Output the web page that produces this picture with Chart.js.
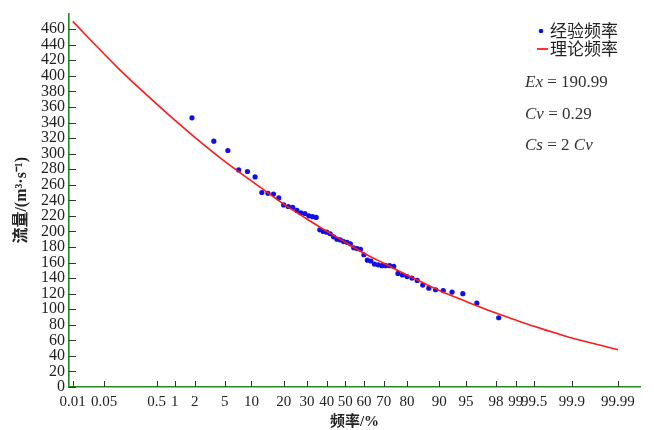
<!DOCTYPE html>
<html>
<head>
<meta charset="utf-8">
<script src="https://cdn.jsdelivr.net/npm/chart.js@4.4.1/dist/chart.umd.min.js"></script>
<style>
  html, body { margin: 0; padding: 0; background: #fff; }
  #wrap { width: 654px; height: 430px; }
</style>
</head>
<body>
<div id="wrap"><canvas id="freqChart" width="654" height="430"></canvas></div>
<script>
// Flow frequency curve on probability paper (P-III fit)

// empirical points: exceedance frequency (%) and flow (m3/s)
const empiricalFreq = [1.82, 3.64, 5.45, 7.27, 9.09, 10.91, 12.73, 14.55, 16.36, 18.18,
  20.00, 21.82, 23.64, 25.45, 27.27, 29.09, 30.91, 32.73, 34.55, 36.36,
  38.18, 40.00, 41.82, 43.64, 45.45, 47.27, 49.09, 50.91, 52.73, 54.55,
  56.36, 58.18, 60.00, 61.82, 63.64, 65.45, 67.27, 69.09, 70.91, 72.73,
  74.55, 76.36, 78.18, 80.00, 81.82, 83.64, 85.45, 87.27, 89.09, 90.91,
  92.73, 94.55, 96.36, 98.18];
const empiricalFlow = [346, 316, 304, 279, 277, 270, 250, 249, 248, 243,
  234, 232, 231, 227, 224, 223, 220, 219, 218, 202,
  200, 199, 197, 193, 190, 189, 187, 186, 184, 179,
  178, 177, 170, 163, 162, 158, 157, 156, 156, 156,
  155, 146, 144, 142, 140, 137, 131, 127, 125, 124,
  122, 120, 108, 89];

// theoretical curve
const theoryFreq = [0.01, 0.05, 0.1, 0.2, 0.5, 1, 2, 5, 10, 20, 30, 40, 50,
  60, 70, 80, 90, 95, 98, 99, 99.5, 99.8, 99.9, 99.99];
const theoryFlow = [470, 428, 409, 390, 364, 343, 321, 290, 265, 235, 216, 200, 186,
  172, 159, 144, 124, 110, 95, 86, 78, 69, 63, 48];

// axis ticks
const xTickValues = [0.01, 0.05, 0.5, 1, 2, 5, 10, 20, 30, 40, 50, 60, 70, 80, 90,
  95, 98, 99, 99.5, 99.9, 99.99];
const xTickLabels = ["0.01", "0.05", "0.5", "1", "2", "5", "10", "20", "30", "40", "50",
  "60", "70", "80", "90", "95", "98", "99", "99.5", "99.9", "99.99"];
const yTickValues = [0, 20, 40, 60, 80, 100, 120, 140, 160, 180, 200, 220, 240, 260,
  280, 300, 320, 340, 360, 380, 400, 420, 440, 460];

const Z_MIN = -3.77;
const Z_MAX = 4.02;
const AXIS_GREEN = "#228b22";

// Acklam inverse normal
function qnorm(p) {
  const a = [-3.969683028665376e+01, 2.209460984245205e+02, -2.759285104469687e+02,
    1.383577518672690e+02, -3.066479806614716e+01, 2.506628277459239e+00];
  const b = [-5.447609879822406e+01, 1.615858368580409e+02, -1.556989798598866e+02,
    6.680131188771972e+01, -1.328068155288572e+01];
  const c = [-7.784894002430293e-03, -3.223964580411365e-01, -2.400758277161838e+00,
    -2.549732539343734e+00, 4.374664141464968e+00, 2.938163982698783e+00];
  const d = [7.784695709041462e-03, 3.224671290700398e-01, 2.445134137142996e+00,
    3.754408661907416e+00];
  const pl = 0.02425;
  let q, r;
  if (p < pl) {
    q = Math.sqrt(-2 * Math.log(p));
    return (((((c[0] * q + c[1]) * q + c[2]) * q + c[3]) * q + c[4]) * q + c[5]) /
      ((((d[0] * q + d[1]) * q + d[2]) * q + d[3]) * q + 1);
  }
  if (p > 1 - pl) {
    q = Math.sqrt(-2 * Math.log(1 - p));
    return -(((((c[0] * q + c[1]) * q + c[2]) * q + c[3]) * q + c[4]) * q + c[5]) /
      ((((d[0] * q + d[1]) * q + d[2]) * q + d[3]) * q + 1);
  }
  q = p - 0.5;
  r = q * q;
  return (((((a[0] * r + a[1]) * r + a[2]) * r + a[3]) * r + a[4]) * r + a[5]) * q /
    (((((b[0] * r + b[1]) * r + b[2]) * r + b[3]) * r + b[4]) * r + 1);
}

function pnorm(z) {
  const t = 1 / (1 + 0.2316419 * Math.abs(z));
  const poly = t * (0.319381530 + t * (-0.356563782 + t * (1.781477937 + t * (-1.821255978 + t * 1.330274429))));
  const tail = Math.exp(-z * z / 2) / Math.sqrt(2 * Math.PI) * poly;
  return z >= 0 ? 1 - tail : tail;
}

// probability-paper scale: value in %, pixel linear in normal quantile
class ProbabilityScale extends Chart.LinearScale {
  determineDataLimits() {
    this.min = pnorm(Z_MIN) * 100;
    this.max = pnorm(Z_MAX) * 100;
  }
  buildTicks() {
    return xTickValues.map((v) => ({ value: v }));
  }
  getPixelForValue(value) {
    const z = qnorm(value / 100);
    return this.getPixelForDecimal((z - Z_MIN) / (Z_MAX - Z_MIN));
  }
  getValueForPixel(pixel) {
    const z = Z_MIN + this.getDecimalForPixel(pixel) * (Z_MAX - Z_MIN);
    return pnorm(z) * 100;
  }
}
ProbabilityScale.id = "probability";
ProbabilityScale.defaults = {};
Chart.register(ProbabilityScale);

// ticks pointing into the plot area
const inwardTicks = {
  id: "inwardTicks",
  afterDraw(chart) {
    const { ctx, chartArea, scales } = chart;
    ctx.save();
    ctx.strokeStyle = "#333";
    ctx.lineWidth = 1;
    ctx.beginPath();
    scales.x.ticks.forEach((t) => {
      const px = Math.round(scales.x.getPixelForValue(t.value)) + 0.5;
      ctx.moveTo(px, chartArea.bottom);
      ctx.lineTo(px, chartArea.bottom - 6);
    });
    scales.y.ticks.forEach((t) => {
      const py = Math.round(scales.y.getPixelForValue(t.value)) + 0.5;
      ctx.moveTo(chartArea.left, py);
      ctx.lineTo(chartArea.left + 7, py);
    });
    ctx.stroke();
    ctx.restore();
  },
};

// legend + parameter notes in the upper right
function drawRuns(ctx, x, y, runs) {
  runs.forEach(([text, italic]) => {
    ctx.font = (italic ? "italic " : "") + "17px 'Liberation Serif', serif";
    ctx.fillText(text, x, y);
    x += ctx.measureText(text).width;
  });
}

const notes = {
  id: "notes",
  afterDraw(chart) {
    const ctx = chart.ctx;
    ctx.save();
    ctx.textBaseline = "middle";
    ctx.fillStyle = "#1010e6";
    ctx.beginPath();
    ctx.arc(541, 31, 2.3, 0, Math.PI * 2);
    ctx.fill();
    ctx.strokeStyle = "#ff1a1a";
    ctx.lineWidth = 1.8;
    ctx.beginPath();
    ctx.moveTo(537, 49);
    ctx.lineTo(548, 49);
    ctx.stroke();

    ctx.fillStyle = "#222";
    ctx.font = "17px 'Noto Sans CJK SC', sans-serif";
    ctx.fillText("经验频率", 550, 31);
    ctx.fillText("理论频率", 550, 49);

    ctx.fillStyle = "#333";
    drawRuns(ctx, 525, 83, [["Ex", true], [" = 190.99", false]]);
    drawRuns(ctx, 525, 115, [["Cv", true], [" = 0.29", false]]);
    drawRuns(ctx, 525, 146, [["Cs", true], [" = 2 ", false], ["Cv", true]]);
    ctx.restore();
  },
};

const ctx = document.getElementById("freqChart").getContext("2d");
new Chart(ctx, {
  type: "line",
  data: {
    datasets: [
      {
        label: "经验频率",
        data: empiricalFreq.map((f, i) => ({ x: f, y: empiricalFlow[i] })),
        showLine: false,
        pointRadius: 2.6,
        pointBorderWidth: 0,
        pointBackgroundColor: "#1010e6",
        order: 1,
      },
      {
        label: "理论频率",
        data: theoryFreq.map((f, i) => ({ x: f, y: theoryFlow[i] })),
        borderColor: "#ff1a1a",
        borderWidth: 1.6,
        pointRadius: 0,
        tension: 0.3,
        fill: false,
        order: 0,
      },
    ],
  },
  options: {
    responsive: false,
    animation: false,
    devicePixelRatio: 1,
    events: [],
    layout: { padding: { left: 0, top: 7, right: 14, bottom: 0 } },
    plugins: {
      legend: { display: false },
      tooltip: { enabled: false },
    },
    scales: {
      x: {
        type: "probability",
        afterFit: (s) => { s.height = 43; },
        grid: { display: false, drawTicks: false },
        border: { display: true, color: AXIS_GREEN, width: 1.6 },
        ticks: {
          autoSkip: false,
          maxRotation: 0,
          padding: 6,
          color: "#222",
          font: { family: "'Liberation Serif', serif", size: 15 },
          callback: (v, i) => xTickLabels[i],
        },
        title: {
          display: true,
          text: "频率/%",
          color: "#222",
          padding: 0,
          font: { family: "'Liberation Serif', 'Noto Sans CJK SC', serif", size: 15, weight: "bold", lineHeight: 1.1 },
        },
      },
      y: {
        type: "linear",
        min: 0,
        max: 480,
        afterFit: (s) => { s.width = 69; },
        afterBuildTicks: (s) => { s.ticks = yTickValues.map((v) => ({ value: v })); },
        grid: { display: false, drawTicks: false },
        border: { display: true, color: AXIS_GREEN, width: 1.6 },
        ticks: {
          autoSkip: false,
          padding: 4,
          color: "#222",
          font: { family: "'Liberation Serif', serif", size: 16 },
          callback: (v) => String(v),
        },
        title: {
          display: true,
          text: "流量/(m³·s⁻¹)",
          color: "#222",
          padding: 12,
          font: { family: "'Liberation Serif', 'Noto Sans CJK SC', serif", size: 16, weight: "bold" },
        },
      },
    },
  },
  plugins: [inwardTicks, notes],
});
</script>
</body>
</html>
